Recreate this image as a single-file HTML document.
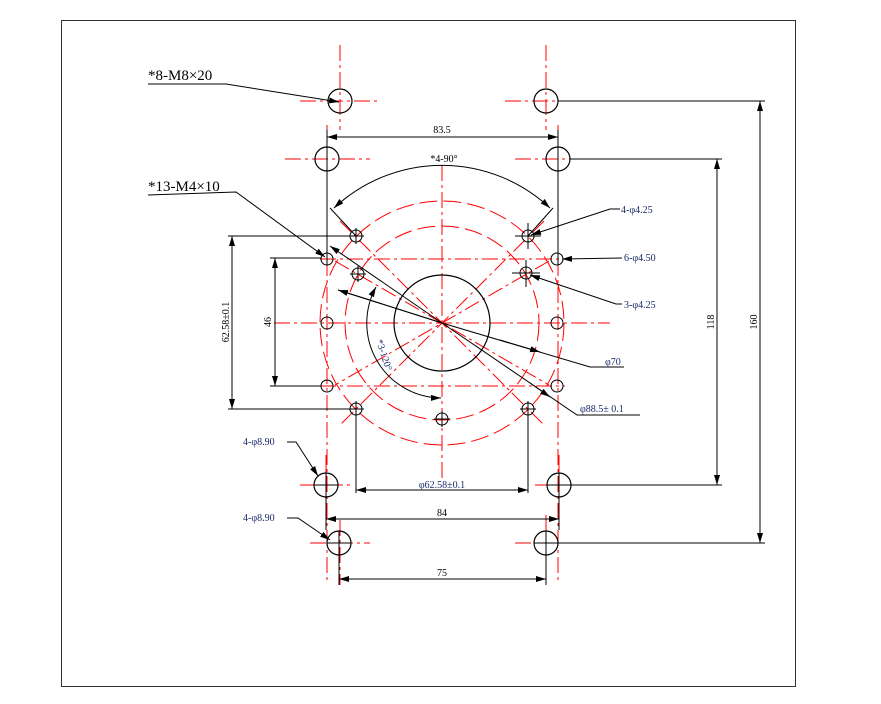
<!DOCTYPE html>
<html><head><meta charset="utf-8"><style>
html,body{margin:0;padding:0;background:#fff;}
svg{display:block;}
text{font-family:"Liberation Serif","Noto Serif CJK SC",serif;}
</style></head><body>
<svg width="881" height="704" viewBox="0 0 881 704" xmlns="http://www.w3.org/2000/svg">
<defs>
<marker id="a" viewBox="0 0 10 6" refX="10" refY="3" markerWidth="10" markerHeight="6" orient="auto-start-reverse" markerUnits="userSpaceOnUse"><path d="M0,0 L10,3 L0,6z" fill="#000"/></marker>
</defs>
<rect x="61.5" y="20.5" width="734" height="666" fill="none" stroke="#333" stroke-width="1"/>

<!-- red center lines -->
<g stroke="#f00" stroke-width="1" fill="none" stroke-dasharray="16,4,3,4">
<line x1="340" y1="45" x2="340" y2="130"/><line x1="546" y1="45" x2="546" y2="130"/>
<line x1="300" y1="101" x2="380" y2="101"/><line x1="505" y1="101" x2="580" y2="101"/>
<line x1="327" y1="125" x2="327" y2="580"/><line x1="558" y1="125" x2="558" y2="580"/>
<line x1="285" y1="159" x2="370" y2="159"/><line x1="515" y1="159" x2="600" y2="159"/>
<line x1="300" y1="485" x2="350" y2="485"/><line x1="535" y1="485" x2="590" y2="485"/>
<line x1="310" y1="543" x2="370" y2="543"/><line x1="515" y1="543" x2="580" y2="543"/>
<line x1="340" y1="520" x2="340" y2="585"/><line x1="546" y1="515" x2="546" y2="585"/>
<line x1="442" y1="165" x2="442" y2="480"/>
<line x1="274" y1="323" x2="610" y2="323"/>
<line x1="320" y1="259" x2="565" y2="259"/>
<line x1="320" y1="386" x2="565" y2="386"/>
<line x1="340" y1="221" x2="544" y2="425"/><line x1="544" y1="221" x2="340" y2="425"/>
<line x1="335" y1="261" x2="549" y2="385"/><line x1="549" y1="261" x2="335" y2="385"/>
</g>
<g stroke="#f00" stroke-width="1" fill="none" stroke-dasharray="18,6">
<circle cx="442" cy="323" r="122"/>
<circle cx="442" cy="323" r="97"/>
</g>
<g stroke="#f00" stroke-width="1">
<line x1="318" y1="485" x2="335" y2="485"/><line x1="326" y1="455" x2="326" y2="515"/>
<line x1="550" y1="485" x2="567" y2="485"/><line x1="559" y1="455" x2="559" y2="515"/>
</g>

<!-- black geometry -->
<g stroke="#000" stroke-width="1.2" fill="none">
<circle cx="340" cy="101" r="12"/><circle cx="546" cy="101" r="12"/>
<circle cx="327" cy="159" r="12"/><circle cx="558" cy="159" r="12"/>
<circle cx="326" cy="485" r="12"/><circle cx="559" cy="485" r="12"/>
<circle cx="339" cy="543" r="12"/><circle cx="546" cy="543" r="12"/>
<circle cx="442" cy="323" r="48"/>
<g stroke-width="1">
<circle cx="327" cy="259" r="6"/><circle cx="327" cy="323" r="6"/><circle cx="327" cy="386" r="6"/>
<circle cx="557" cy="259" r="6"/><circle cx="557" cy="323" r="6"/><circle cx="557" cy="386" r="6"/>
<circle cx="356" cy="236" r="6"/><circle cx="528" cy="236" r="6"/>
<circle cx="356" cy="409" r="6"/><circle cx="528" cy="409" r="6"/>
<circle cx="442" cy="419" r="6"/>
<circle cx="358" cy="274" r="6"/><circle cx="526" cy="273" r="6"/>
</g>
</g>
<g stroke="#000" stroke-width="1">
<line x1="348" y1="236" x2="364" y2="236"/><line x1="356" y1="228" x2="356" y2="244"/>
<line x1="515" y1="236" x2="541" y2="236"/><line x1="528" y1="223" x2="528" y2="249"/>
<line x1="348" y1="409" x2="364" y2="409"/><line x1="356" y1="401" x2="356" y2="417"/>
<line x1="520" y1="409" x2="536" y2="409"/><line x1="528" y1="401" x2="528" y2="417"/>
<line x1="434" y1="419" x2="450" y2="419"/><line x1="442" y1="411" x2="442" y2="427"/>
<line x1="350" y1="274" x2="366" y2="274"/><line x1="358" y1="266" x2="358" y2="282"/>
<line x1="512" y1="273" x2="540" y2="273"/><line x1="526" y1="260" x2="526" y2="287"/>
<line x1="326" y1="473" x2="326" y2="530"/><line x1="559" y1="473" x2="559" y2="530"/>
<line x1="314" y1="485" x2="338" y2="485"/><line x1="547" y1="485" x2="571" y2="485"/>
<line x1="339" y1="531" x2="339" y2="585"/><line x1="546" y1="531" x2="546" y2="585"/>
<line x1="327" y1="543" x2="351" y2="543"/><line x1="534" y1="543" x2="558" y2="543"/>
</g>

<!-- dimension lines -->
<g stroke="#000" stroke-width="1" fill="none">
<line x1="327" y1="130" x2="327" y2="265"/><line x1="558" y1="130" x2="558" y2="265"/>
<line x1="327" y1="137" x2="558" y2="137" marker-start="url(#a)" marker-end="url(#a)"/>
<path d="M334,208 A158,158 0 0 1 550,208" marker-start="url(#a)" marker-end="url(#a)"/>
<line x1="330" y1="208" x2="356" y2="236"/><line x1="553" y1="208" x2="528" y2="236"/>
<line x1="558" y1="101" x2="765" y2="101"/><line x1="570" y1="159" x2="722" y2="159"/>
<line x1="571" y1="485" x2="722" y2="485"/><line x1="558" y1="543" x2="765" y2="543"/>
<line x1="760" y1="101" x2="760" y2="543" marker-start="url(#a)" marker-end="url(#a)"/>
<line x1="717" y1="159" x2="717" y2="485" marker-start="url(#a)" marker-end="url(#a)"/>
<line x1="228" y1="236" x2="350" y2="236"/><line x1="228" y1="409" x2="350" y2="409"/>
<line x1="232" y1="236" x2="232" y2="409" marker-start="url(#a)" marker-end="url(#a)"/>
<line x1="270" y1="258" x2="321" y2="258"/><line x1="270" y1="386" x2="321" y2="386"/>
<line x1="275" y1="258" x2="275" y2="386" marker-start="url(#a)" marker-end="url(#a)"/>
<line x1="356" y1="415" x2="356" y2="493"/><line x1="528" y1="415" x2="528" y2="493"/>
<line x1="356" y1="490" x2="528" y2="490" marker-start="url(#a)" marker-end="url(#a)"/>
<line x1="326" y1="519" x2="559" y2="519" marker-start="url(#a)" marker-end="url(#a)"/>
<line x1="339" y1="579" x2="546" y2="579" marker-start="url(#a)" marker-end="url(#a)"/>
<path d="M376,287 A75,75 0 0 0 441,398" marker-start="url(#a)" marker-end="url(#a)"/>
<!-- leaders -->
<polyline points="148,84 226,84 339,102" marker-end="url(#a)"/>
<polyline points="148,195 236,192 325,257" marker-end="url(#a)"/>
<line x1="330" y1="246" x2="442" y2="323" marker-start="url(#a)"/>
<polyline points="338,290 442,323 442,323"/>
<polyline points="338,290 442,323" marker-start="url(#a)"/>
<polyline points="442,323 590,367 624,367"/>
<line x1="500" y1="340" x2="540" y2="352" marker-end="url(#a)"/>
<polyline points="442,323 577,415 640,415"/>
<line x1="530" y1="383" x2="550" y2="397" marker-end="url(#a)"/>
<polyline points="620,209 610,209 531,235" marker-end="url(#a)"/>
<polyline points="622,258 562,259" marker-end="url(#a)"/>
<polyline points="622,304 616,304 530,275" marker-end="url(#a)"/>
<polyline points="287,442 296,442 318,476" marker-end="url(#a)"/>
<polyline points="287,518 298,518 330,540" marker-end="url(#a)"/>
</g>

<!-- labels -->
<g font-size="10" fill="#000">
<text x="148" y="80" font-size="15">*8-M8×20</text>
<text x="148" y="191" font-size="15">*13-M4×10</text>
<text x="442" y="133" text-anchor="middle">83.5</text>
<text x="444" y="162" text-anchor="middle">*4-90°</text>
<text x="442" y="516" text-anchor="middle">84</text>
<text x="442" y="576" text-anchor="middle">75</text>
<text x="442" y="488" text-anchor="middle" fill="#1a2a6a">φ62.58±0.1</text>
<text transform="translate(714,322) rotate(-90)" text-anchor="middle">118</text>
<text transform="translate(757,322) rotate(-90)" text-anchor="middle">160</text>
<text transform="translate(229,322) rotate(-90)" text-anchor="middle">62.58±0.1</text>
<text transform="translate(271,322) rotate(-90)" text-anchor="middle">46</text>
<text transform="translate(381,356) rotate(72)" text-anchor="middle" fill="#1a2a6a">*3-120°</text>
</g>
<g font-size="10" fill="#1a2a6a">
<text x="621" y="213">4-φ4.25</text>
<text x="624" y="261">6-φ4.50</text>
<text x="624" y="308">3-φ4.25</text>
<text x="605" y="365">φ70</text>
<text x="580" y="412">φ88.5± 0.1</text>
<text x="243" y="445">4-φ8.90</text>
<text x="243" y="521">4-φ8.90</text>
</g>
</svg>
</body></html>
